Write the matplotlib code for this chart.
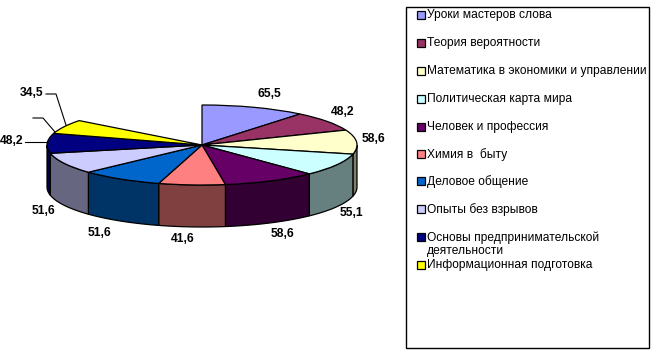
import numpy as np
import matplotlib
matplotlib.use('Agg')
import matplotlib.pyplot as plt
from matplotlib.patches import Polygon, Rectangle
from matplotlib.colors import to_rgb

plt.rcParams['font.family'] = ['Liberation Sans', 'DejaVu Sans']

# ---- Data ----
subjects = ['Уроки мастеров слова', 'Теория вероятности',
            'Математика в экономики и управлении', 'Политическая карта мира',
            'Человек и профессия', 'Химия в  быту', 'Деловое общение',
            'Опыты без взрывов', 'Основы предпринимательской\nдеятельности',
            'Информационная подготовка']
values = [65.5, 48.2, 58.6, 55.1, 58.6, 41.6, 51.6, 51.6, 48.2, 34.5]
value_labels = ['65,5', '48,2', '58,6', '55,1', '58,6', '41,6', '51,6', '51,6', '48,2', '34,5']
hidden_value = 87.5  # the empty gap in the pie, drawn as nothing
colors = ['#9999FF', '#993366', '#FFFFCC', '#CCFFFF', '#660066',
          '#FF8080', '#0066CC', '#CCCCFF', '#000080', '#FFFF00']

# ---- Layout (pixels) ----
W, H = 662, 361
cx, cy, rx, ry, depth = 202, 145, 155, 40, 42
label_xy = [(269, 94), (343, 112), (374, 139), (351, 213), (283, 234),
            (183, 239), (100, 233), (44, 211), (12, 141), (32, 93)]
legend_y = [15, 43, 71, 99, 127, 154, 181, 209, 237, 265]

fig = plt.figure(figsize=(W / 100, H / 100), dpi=100)

# pie axes: one data unit is rx wide and ry high, which squashes the pie
ax = fig.add_axes([0, 0, 1, 1])
total = sum(values) + hidden_value
fracs = np.array(values) / total
ax.pie(fracs, colors=colors, startangle=90, counterclock=False, normalize=False,
       wedgeprops=dict(edgecolor='black', linewidth=0.9, zorder=3))
ax.set_aspect('auto')
ax.set_xlim(-cx / rx, (W - cx) / rx)
ax.set_ylim((cy - H) / ry, cy / ry)
ax.axis('off')

# side wall, only the part facing the viewer
d = depth / ry
edges = np.concatenate([[0], np.cumsum(fracs)]) * 360
for i in range(len(values)):
    a0, a1 = max(edges[i], 90), min(edges[i + 1], 270)
    if a1 <= a0:
        continue
    th = np.radians(np.linspace(a0, a1, 40))
    x, y = np.sin(th), np.cos(th)
    pts = np.r_[np.c_[x, y], np.c_[x[::-1], y[::-1] - d]]
    wall = tuple(c * 0.5 for c in to_rgb(colors[i]))
    ax.add_patch(Polygon(pts, closed=True, facecolor=wall, edgecolor='black',
                         linewidth=0.9, zorder=2))

# overlay in pixel coordinates for the texts, leaders and legend
ov = fig.add_axes([0, 0, 1, 1], facecolor='none')
ov.set_xlim(0, W); ov.set_ylim(H, 0); ov.axis('off')

for txt, (x, y) in zip(value_labels, label_xy):
    ov.text(x, y, txt, fontsize=8.7, fontweight='bold', ha='center', va='center')

# leader lines
ov.plot([46, 56, 66], [94, 94, 125], color='black', lw=0.8)
ov.plot([33, 43, 55], [118, 118, 132], color='black', lw=0.8)
ov.plot([25, 48], [142, 142], color='black', lw=0.8)

# legend
ov.add_patch(Rectangle((405.5, 6.5), 243, 341, facecolor='none', edgecolor='black', lw=1))
for name, col, y in zip(subjects, colors, legend_y):
    ov.add_patch(Rectangle((416.5, y - 4), 8, 8, facecolor=col, edgecolor='black', lw=0.9))
    ov.text(427, y - 6, name, fontsize=8.65, ha='left', va='top', linespacing=1.15)

fig.savefig('out.png', dpi=100)
